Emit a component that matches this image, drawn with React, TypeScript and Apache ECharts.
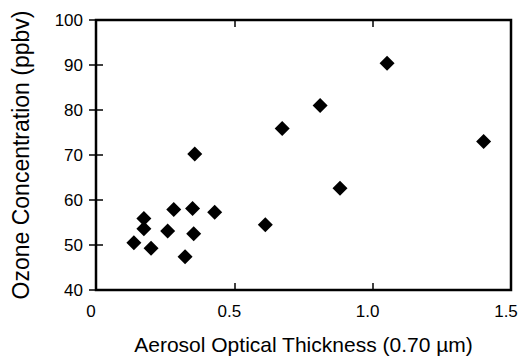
import React, { useEffect, useRef } from "react";
import * as echarts from "echarts";

const aerosolThickness = [0.137, 0.173, 0.173, 0.199, 0.259, 0.281, 0.322, 0.349, 0.353, 0.357, 0.429, 0.612, 0.673, 0.81, 0.882, 1.052, 1.401];
const ozonePpbv = [50.5, 55.9, 53.6, 49.3, 53.1, 57.9, 47.4, 58.1, 52.5, 70.2, 57.3, 54.5, 75.9, 81.0, 62.6, 90.4, 73.0];
const xTickLabels: Record<string, string> = { "0": "0", "0.5": "0.5", "1": "1.0", "1.5": "1.5" };
const xRange = [0, 1.5];
const yRange = [40, 100];

export default function App() {
  const ref = useRef<HTMLDivElement>(null);
  useEffect(() => {
    if (!ref.current) return;
    document.documentElement.style.overflow = "hidden";
    const chart = echarts.init(ref.current, null, { renderer: "svg" });
    const font = "Liberation Sans, Arial, Helvetica, sans-serif";
    const tickStyle = () => ({ show: true, inside: true, length: 7, lineStyle: { color: "#000", width: 1.5 } });
    const frameLine = () => ({ show: true, lineStyle: { color: "#000", width: 1.5 } });
    chart.setOption({
      animation: false,
      backgroundColor: "#fff",
      grid: { left: 88, right: 17, top: 12, bottom: 67, outerBoundsMode: "none", containLabel: false },
      xAxis: [
        {
          type: "value", min: xRange[0], max: xRange[1], interval: 0.5,
          name: "Aerosol Optical Thickness (0.70 µm)", nameLocation: "middle", nameGap: 44,
          nameTextStyle: { color: "#000", fontSize: 21, fontFamily: font },
          axisLine: frameLine(),
          axisTick: tickStyle(),
          splitLine: { show: false },
          axisLabel: { color: "#000", fontSize: 17, fontFamily: font, margin: 13, padding: [0, 10, 0, 0], formatter: (v: number) => xTickLabels[String(v)] ?? String(v) },
        },
        {
          type: "value", min: xRange[0], max: xRange[1], interval: 0.5, position: "top",
          axisLine: frameLine(), axisTick: tickStyle(), axisLabel: { show: false }, splitLine: { show: false },
        },
      ],
      yAxis: [
        {
          type: "value", min: yRange[0], max: yRange[1], interval: 10,
          name: "Ozone Concentration (ppbv)", nameLocation: "middle", nameGap: 64,
          nameTextStyle: { color: "#000", fontSize: 23, fontFamily: font },
          axisLine: frameLine(),
          axisTick: tickStyle(),
          splitLine: { show: false },
          axisLabel: { color: "#000", fontSize: 17, fontFamily: font, margin: 13 },
        },
        {
          type: "value", min: yRange[0], max: yRange[1], interval: 10, position: "right",
          axisLine: frameLine(), axisTick: tickStyle(), axisLabel: { show: false }, splitLine: { show: false },
        },
      ],
      series: [
        {
          type: "custom",
          silent: true,
          clip: false,
          z: 1,
          data: [[xRange[0], yRange[1], xRange[1], yRange[0]]],
          encode: { x: [0, 2], y: [1, 3] },
          renderItem: (_params: any, api: any) => {
            const p0 = api.coord([api.value(0), api.value(1)]);
            const p1 = api.coord([api.value(2), api.value(3)]);
            return {
              type: "rect",
              shape: { x: p0[0], y: p0[1], width: p1[0] - p0[0], height: p1[1] - p0[1] },
              style: { fill: "none", stroke: "#000", lineWidth: 2.5 },
            };
          },
        },
        {
          type: "scatter",
          symbol: "diamond",
          symbolSize: 15,
          z: 3,
          itemStyle: { color: "#000", opacity: 1 },
          data: aerosolThickness.map((x, i) => [x, ozonePpbv[i]]),
        },
      ],
    });
    return () => chart.dispose();
  }, []);
  return <div ref={ref} style={{ width: 520, height: 349 }} />;
}
